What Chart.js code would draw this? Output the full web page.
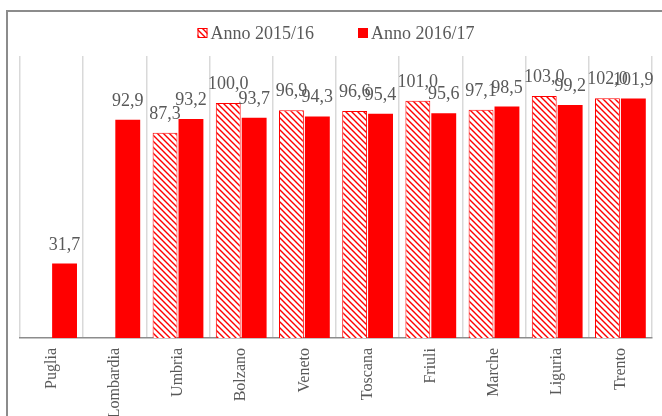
<!DOCTYPE html>
<html>
<head>
<meta charset="utf-8">
<script src="https://cdn.jsdelivr.net/npm/chart.js@4"></script>
<style>
  html, body { margin: 0; padding: 0; background: #fff; }
  #wrap { width: 662px; height: 416px; }
</style>
</head>
<body>
<div id="wrap"><canvas id="chartCanvas" width="662" height="416"></canvas></div>
<script>
const regioni = ['Puglia', 'Lombardia', 'Umbria', 'Bolzano', 'Veneto', 'Toscana', 'Friuli', 'Marche', 'Liguria', 'Trento'];
const anno1516 = [null, null, 87.3, 100.0, 96.9, 96.6, 101.0, 97.1, 103.0, 102.0];
const anno1617 = [31.7, 92.9, 93.2, 93.7, 94.3, 95.4, 95.6, 98.5, 99.2, 101.9];
const serieLabels = ['Anno 2015/16', 'Anno 2016/17'];

const FONT = "'Liberation Serif', 'Times New Roman', serif";
const GRAY = '#595959';
const RED = '#ff0000';

// hatch pattern, red diagonal lines on white
function makeHatch() {
  const c = document.createElement('canvas');
  c.width = 6; c.height = 6;
  const g = c.getContext('2d');
  g.fillStyle = '#fff';
  g.fillRect(0, 0, 6, 6);
  g.strokeStyle = RED;
  g.lineWidth = 1.4;
  g.beginPath();
  g.moveTo(-1, -1); g.lineTo(7, 7);
  g.moveTo(-4, 2); g.lineTo(4, 10);
  g.moveTo(2, -4); g.lineTo(10, 4);
  g.stroke();
  return g.createPattern(c, 'repeat');
}
const hatch = makeHatch();

const ctx = document.getElementById('chartCanvas').getContext('2d');

const framePlugin = {
  id: 'frame',
  beforeDraw: (chart) => {
    const c = chart.ctx;
    c.save();
    c.fillStyle = '#fff';
    c.fillRect(0, 0, chart.width, chart.height);
    c.strokeStyle = '#8c8c8c';
    c.lineWidth = 2;
    c.strokeRect(7, 11, 800, 600);
    c.restore();
  }
};

const valueLabels = {
  id: 'valueLabels',
  afterDatasetsDraw: (chart) => {
    const c = chart.ctx;
    c.save();
    c.font = '18px ' + FONT;
    c.fillStyle = GRAY;
    c.textAlign = 'center';
    c.textBaseline = 'alphabetic';
    chart.data.datasets.forEach((ds, i) => {
      chart.getDatasetMeta(i).data.forEach((bar, j) => {
        const v = ds.data[j];
        if (v == null) return;
        c.fillText(v.toFixed(1).replace('.', ','), bar.x, bar.y - 14);
      });
    });
    c.restore();
  }
};

const topLegend = {
  id: 'topLegend',
  afterDraw: (chart) => {
    const c = chart.ctx;
    c.save();
    c.font = '18px ' + FONT;
    const box = 10, gapText = 3, gapItem = 44;
    const ds = chart.data.datasets;
    let total = 0;
    ds.forEach((d, i) => {
      total += box + gapText + c.measureText(d.label).width;
      if (i < ds.length - 1) total += gapItem;
    });
    const ca = chart.chartArea;
    let x = (ca.left + ca.right) / 2 - total / 2;
    const y = 33;
    ds.forEach((d) => {
      c.fillStyle = d.backgroundColor;
      c.fillRect(x, y - 5, box, box);
      c.strokeStyle = RED;
      c.lineWidth = 1;
      c.strokeRect(x + 0.5, y - 4.5, box - 1, box - 1);
      x += box + gapText;
      c.fillStyle = GRAY;
      c.textBaseline = 'middle';
      c.fillText(d.label, x, y + 1);
      x += c.measureText(d.label).width + gapItem;
    });
    c.restore();
  }
};

new Chart(ctx, {
  type: 'bar',
  data: {
    labels: regioni,
    datasets: [
      {
        label: serieLabels[0],
        data: anno1516,
        backgroundColor: hatch,
        borderColor: RED,
        borderWidth: 1,
        categoryPercentage: 0.82,
        barPercentage: 0.96
      },
      {
        label: serieLabels[1],
        data: anno1617,
        backgroundColor: RED,
        borderWidth: 0,
        categoryPercentage: 0.82,
        barPercentage: 0.96
      }
    ]
  },
  options: {
    responsive: false,
    animation: false,
    layout: { padding: { top: 56, left: 20, right: 10, bottom: 0 } },
    plugins: {
      legend: { display: false },
      tooltip: { enabled: false }
    },
    scales: {
      x: {
        grid: { color: '#d9d9d9', lineWidth: 1.5, drawTicks: false, offset: true },
        border: { color: '#8c8c8c', width: 1.5 },
        ticks: {
          color: GRAY,
          font: { family: FONT, size: 16 },
          minRotation: 90,
          maxRotation: 90,
          padding: 10,
          autoSkip: false
        },
        afterFit: (s) => { s.height = 78; }
      },
      y: {
        display: false,
        min: 0,
        max: 120
      }
    }
  },
  plugins: [framePlugin, valueLabels, topLegend]
});
</script>
</body>
</html>
